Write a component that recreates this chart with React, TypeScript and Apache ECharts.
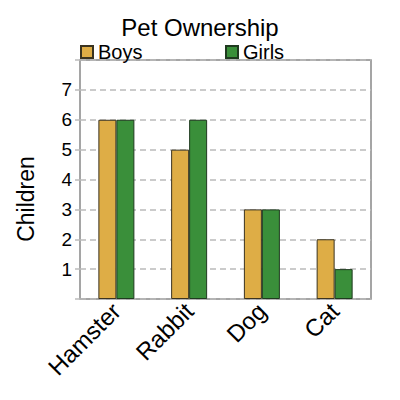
import { useEffect, useRef } from 'react'
import * as echarts from 'echarts'

const categories = ['Hamster', 'Rabbit', 'Dog', 'Cat']
const boys = [6, 5, 3, 2]
const girls = [6, 6, 3, 1]
const yTicks = [1, 2, 3, 4, 5, 6, 7]

const FONT = 'Liberation Sans, Arial, sans-serif'

const App = () => {
  const ref = useRef<HTMLDivElement | null>(null)

  useEffect(() => {
    if (!ref.current) return
    const chart = echarts.init(ref.current, undefined, { renderer: 'svg' })

    chart.setOption({
      animation: false,
      backgroundColor: '#fff',
      textStyle: { fontFamily: FONT },
      title: {
        text: 'Pet Ownership',
        left: 'center',
        top: 10,
        textStyle: { fontSize: 24, fontWeight: 'normal', color: '#000', fontFamily: FONT }
      },
      legend: [
        {
          data: ['Boys'],
          left: 75,
          top: 37,
          itemWidth: 12,
          itemHeight: 12,
          icon: 'rect',
          textStyle: { fontSize: 20, color: '#000' }
        },
        {
          data: ['Girls'],
          left: 220,
          top: 37,
          itemWidth: 12,
          itemHeight: 12,
          icon: 'rect',
          textStyle: { fontSize: 20, color: '#000' }
        }
      ],
      graphic: [
        {
          type: 'text',
          x: 26,
          y: 199,
          rotation: Math.PI / 2,
          style: {
            text: 'Children',
            fontSize: 23,
            fontFamily: FONT,
            fill: '#000',
            align: 'center',
            verticalAlign: 'middle'
          }
        }
      ],
      grid: {
        left: 80,
        right: 29,
        top: 60,
        bottom: 101,
        show: true,
        borderColor: '#888',
        borderWidth: 1.5
      },
      xAxis: {
        type: 'category',
        data: categories,
        axisTick: { show: false },
        axisLine: { show: false },
        axisLabel: {
          rotate: 45,
          fontSize: 24,
          color: '#000',
          margin: 8
        }
      },
      yAxis: {
        type: 'value',
        min: 0,
        max: 8,
        interval: 1,
        axisLine: { show: false },
        axisTick: {
          show: true,
          length: 5,
          lineStyle: { color: '#bbb', width: 1.5 },
          interval: (i: number) => yTicks.includes(i)
        },
        axisLabel: {
          fontSize: 19,
          color: '#000',
          margin: 8,
          formatter: (v: number) => (yTicks.includes(v) ? String(v) : '')
        },
        splitLine: {
          lineStyle: { color: '#bbb', type: [6, 4], width: 1.5 },
          interval: (i: number) => yTicks.includes(i)
        }
      },
      series: [
        {
          name: 'Boys',
          type: 'bar',
          data: boys,
          barWidth: 18,
          barGap: '0%',
          itemStyle: { color: '#DEAD46', borderColor: '#3a3320', borderWidth: 1 }
        },
        {
          name: 'Girls',
          type: 'bar',
          data: girls,
          barWidth: 18,
          itemStyle: { color: '#3A8F3A', borderColor: '#1f3a1f', borderWidth: 1 }
        }
      ]
    })

    return () => chart.dispose()
  }, [])

  return <div ref={ref} style={{ width: 400, height: 400, position: 'absolute', left: 0, top: 0 }} />
}

export default App
